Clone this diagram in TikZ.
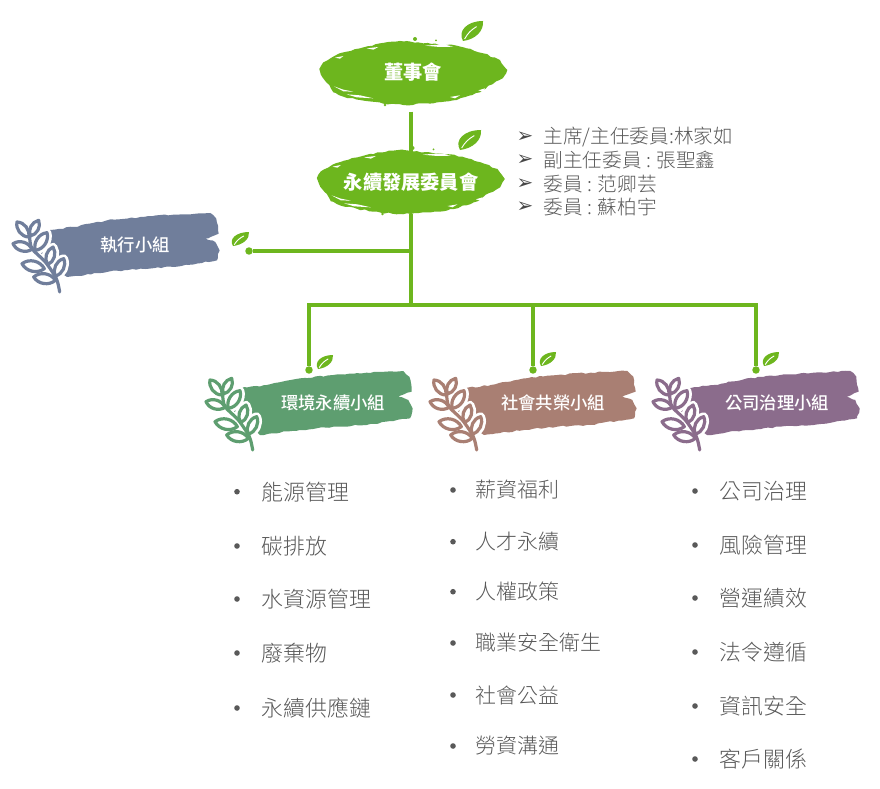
\documentclass[tikz,border=0pt]{standalone}
\usepackage{fontspec}
\setmainfont{Noto Sans CJK TC}
\newfontfamily\lightcjk{Noto Sans CJK TC Light}
\newfontfamily\mediumcjk{Noto Sans CJK TC Medium}
\newfontfamily\dvsans{DejaVu Sans}
\usetikzlibrary{decorations.pathmorphing,calc}
\definecolor{leafgreen}{HTML}{6DB61E}
\definecolor{execblue}{HTML}{707E9B}
\definecolor{envgreen}{HTML}{5E9E70}
\definecolor{socbrown}{HTML}{A97F73}
\definecolor{govpurple}{HTML}{8B6C8C}
\definecolor{bodygrey}{HTML}{595959}
\newcommand\wheatlens[3]{\path[#1] (#2) to[bend left=50] (#3) to[bend left=50] (#2) -- cycle;}
\newcommand\wheatall[1]{%
  \wheatlens{#1}{65,75}{30,30}
  \wheatlens{#1}{70,72}{95,25}
  \wheatlens{#1}{75,112}{18,95}
  \wheatlens{#1}{85,115}{120,62}
  \wheatlens{#1}{122,158}{138,105}
  \wheatlens{#1}{112,170}{45,155}
  \wheatlens{#1}{145,192}{170,140}
  \wheatlens{#1}{145,205}{80,195}
}
\tikzset{
  conn/.style={draw=leafgreen,line width=2.7pt},
  enddot/.style={circle,fill=leafgreen,inner sep=0pt,minimum size=5.6pt},
  blobtext/.style={text=white,font=\bfseries\fontsize{14.4pt}{16pt}\selectfont,minimum width=140pt,minimum height=48pt,inner sep=0pt},
  bandtext/.style={text=white,font=\mediumcjk\fontsize{13pt}{15pt}\selectfont,inner sep=0pt},
  itemtext/.style={text=bodygrey,anchor=west,inner sep=0pt,font=\lightcjk\fontsize{16.4pt}{18pt}\selectfont},
  itemtextb/.style={itemtext,font=\lightcjk\fontsize{15.7pt}{18pt}\selectfont},
  membertext/.style={text=bodygrey,anchor=west,inner sep=0pt,font=\lightcjk\fontsize{14.7pt}{16pt}\selectfont},
  marker/.style={text=bodygrey!80!black,inner sep=0pt,font=\dvsans\fontsize{15pt}{16pt}\selectfont},
  bulletdot/.style={circle,fill=bodygrey,inner sep=0pt,minimum size=4.2pt},
  rough/.style={decorate,decoration={random steps,segment length=3pt,amplitude=.55pt}},
  pics/blob/.style={code={
    \begin{scope}[scale=1/3]
      \fill[leafgreen,rough] (28,162) -- (40,142) -- (75,122) -- (110,110) -- (150,100) -- (210,85) -- (290,78) -- (340,85) -- (440,92) -- (470,100) -- (520,115) -- (570,135) -- (592,165) -- (578,190) -- (535,212) -- (510,232) -- (440,255) -- (370,265) -- (280,270) -- (220,266) -- (150,255) -- (100,245) -- (70,232) -- (58,210) -- (38,188) -- cycle;
      \fill[white] (72,214) -- (100,224) -- (130,230) -- (100,229) -- cycle;
      \fill[white] (110,238) -- (150,241) -- (190,250) -- (140,247) -- cycle;
      \fill[white] (505,226) -- (525,220) -- (520,230) -- cycle;
      \fill[white] (75,128) -- (100,123) -- (90,131) -- cycle;
      \fill[white] (170,100) -- (205,96) -- (190,104) -- cycle;
      \fill[white] (345,92) -- (400,88) -- (430,95) -- (390,96) -- cycle;
      \fill[white] (420,246) -- (450,241) -- (435,250) -- cycle;
      \fill[leafgreen] (315,72) circle (6);
      \fill[leafgreen] (378,76) circle (3);
      \fill[leafgreen] (225,270) circle (4);
    \end{scope}
  }},
  pics/leaflet/.style={code={
    \fill[leafgreen] (0,0) .. controls (-.28,-.5) and (.2,-1) .. (1,-1) .. controls (1.05,-.5) and (.62,-.08) .. (0,0) -- cycle;
    \draw[white,line width=.7pt] (.08,-.1) .. controls (.25,-.4) and (.4,-.55) .. (.68,-.72);
  }},
  pics/groupband/.style={code={
    \begin{scope}[shift={(-205,-170)},scale=1/3]
      \fill[#1,rough] (720,565) -- (800,555) -- (900,535) -- (1000,525) -- (1100,518) -- (1210,513) -- (1228,530) -- (1235,575) -- (1195,590) -- (1225,600) -- (1238,625) -- (1230,655) -- (1100,675) -- (1000,680) -- (900,690) -- (780,705) -- (700,640) -- cycle;
    \end{scope}
    \begin{scope}[shift={(-5,0)},scale=1/3]
      \wheatall{draw=white,fill=white,line width=6.5pt,line join=round}
      \draw[white,line width=6.5pt] (75,112) -- (150,200);
      \wheatall{draw=#1,fill=white,line width=2.4pt,line join=round}
      \draw[#1,line width=2.4pt,line cap=round] plot[smooth] coordinates {(68,75)(75,110)(115,150)(148,200)(158,240)};
    \end{scope}
  }}
}
\begin{document}
\begin{tikzpicture}[x=.75pt,y=-.75pt]
\useasboundingbox[fill=white] (0,0) rectangle (880,788);
\pgfmathsetseed{7}
% blobs and leaves
\pic at (310,15) {blob};
\pic at (307.5,124) {blob};
\pic[xscale=20,yscale=20] at (463,41) {leaflet};
\pic[xscale=21,yscale=20] at (460,150) {leaflet};
\pic[xscale=16,yscale=14] at (233,246) {leaflet};
\pic[xscale=15,yscale=14] at (318,369) {leaflet};
\pic[xscale=15,yscale=14] at (541,366) {leaflet};
\pic[xscale=15,yscale=14] at (764,366) {leaflet};
% bands
\pic at (12,212) {groupband=execblue};
\pic at (205,370) {groupband=envgreen};
\pic at (429,370) {groupband=socbrown};
\pic at (652,370) {groupband=govpurple};
% main nodes
\node[blobtext] (board) at (413,72) {董事會};
\node[blobtext] (committee) at (411,182) {永續發展委員會};
\node[bandtext] (exec) at (135,245) {執行小組};
\node[bandtext] (env) at (333,403) {環境永續小組};
\node[bandtext] (soc) at (553,403) {社會共榮小組};
\node[bandtext] (gov) at (777,403) {公司治理小組};
% connectors
\coordinate (bus) at (411,305);
\node[enddot] (execdot) at (249,251) {};
\node[enddot] (envdot) at (309,370) {};
\node[enddot] (socdot) at (533,370) {};
\node[enddot] (govdot) at (756,370) {};
\draw[conn,shorten <=5.5pt,shorten >=-4.5pt] (board.south -| committee.north) -- (committee.north);
\draw[conn] (committee.south) -- (bus);
\draw[conn] (execdot) -- (execdot -| committee.south);
\draw[conn] (bus) -| (envdot);
\draw[conn] (bus) -| (socdot);
\draw[conn] (bus) -| (govdot);
% committee members
\node[membertext] (m1) at (543.5,137) {主席/主任委員:林家如};
\node[membertext] (m2) at (543.5,160) {副主任委員 : 張聖鑫};
\node[membertext] (m3) at (543.5,184) {委員 : 范卿芸};
\node[membertext] (m4) at (543.5,207) {委員 : 蘇柏宇};
\node[marker] (a1) at (525,137) {➢};
\node[marker] (a2) at (525,160) {➢};
\node[marker] (a3) at (525,184) {➢};
\node[marker] (a4) at (525,207) {➢};
% lists
\foreach \t/\y [count=\i] in {能源管理/491.7,碳排放/546,水資源管理/599,廢棄物/653,永續供應鏈/708}{
  \node[bulletdot] (ba\i) at (237,\y) {};
  \node[itemtext] (ta\i) at (261.5,\y) {\t};
}
\foreach \t/\y [count=\i] in {薪資福利/490,人才永續/541.7,人權政策/591.7,職業安全衛生/643,社會公益/695,勞資溝通/746}{
  \node[bulletdot] (bb\i) at (453,\y) {};
  \node[itemtextb] (tb\i) at (475.5,\y) {\t};
}
\foreach \t/\y [count=\i] in {公司治理/491,風險管理/545,營運績效/598,法令遵循/652,資訊安全/706,客戶關係/759}{
  \node[bulletdot] (bc\i) at (695,\y) {};
  \node[itemtext] (tc\i) at (719.5,\y) {\t};
}
\end{tikzpicture}
\end{document}
